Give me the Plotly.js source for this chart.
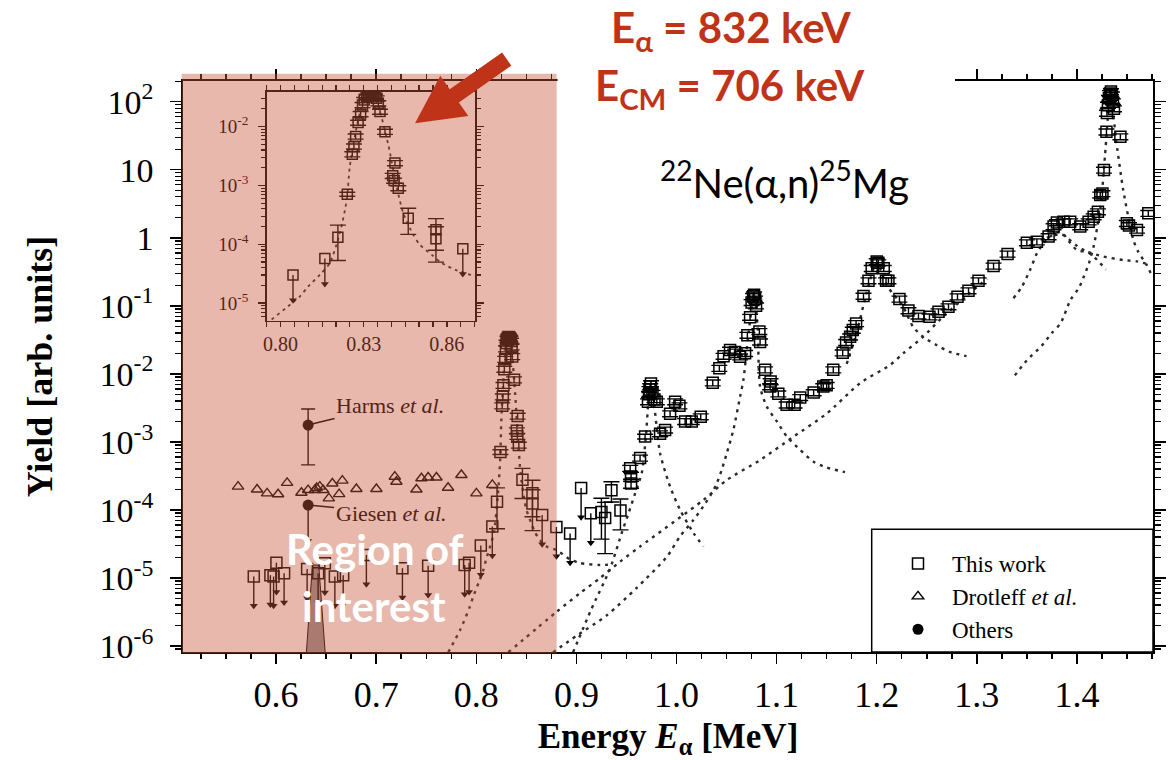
<!DOCTYPE html>
<html><head><meta charset="utf-8">
<script src="https://cdn.plot.ly/plotly-3.0.1.min.js"></script>
<style>html,body{margin:0;padding:0;background:#fff}#chart{width:1170px;height:760px}</style>
</head><body><div id="chart"></div>
<script>
// ---------------- DATA ----------------
// This work: measured yields (Energy in MeV, yield in arb. units, relative error)
const thisWorkE = [0.8207,0.8241,0.8259,0.8265,0.8271,0.828,0.8289,0.8296,0.8302,0.8311,0.8317,0.8323,0.8329,0.8335,0.8341,0.8347,0.8353,0.8359,0.8377,0.8405,0.841,0.8413,0.8425,0.8461,0.8561,0.8561,
0.925,0.9287,0.935,0.944,0.9537,0.9546,0.9546,0.9636,0.9686,0.9715,0.9726,0.973,0.9738,0.9745,0.976,0.978,0.9803,0.9836,0.9886,0.9936,0.9986,1.0029,1.0086,1.0152,1.0242,1.0362,1.0428,1.047,1.0535,1.0585,1.0635,1.0685,1.0708,1.0735,1.075,1.0765,1.0775,1.0785,1.0795,1.0828,1.0835,1.0885,1.0935,1.094,1.1017,1.11,1.118,1.1236,1.137,1.1466,1.15,1.1566,1.166,1.1694,1.1734,1.1761,1.1794,1.1868,1.1918,1.195,1.2,1.2016,1.207,1.2093,1.2117,1.2227,1.2317,1.2417,1.2527,1.2617,1.2717,1.2807,1.2917,1.3017,1.3167,1.3307,1.35,1.36,1.3717,1.3767,1.38,1.3867,1.3933,1.4033,1.4117,1.4167,1.421,1.4233,1.4255,1.427,1.4295,1.43,1.431,1.432,1.433,1.434,1.435,1.436,1.437,1.4434,1.4499,1.452,1.46,1.4713];
const thisWorkY = [1.32e-4,7.1e-4,3.4e-3,4.6e-3,6.8e-3,1.17e-2,1.64e-2,2.34e-2,2.84e-2,3.24e-2,3.4e-2,3.47e-2,3.43e-2,3.33e-2,3.24e-2,3.03e-2,2.5e-2,1.8e-2,8.2e-3,1.46e-3,1.21e-3,2.4e-3,9.0e-4,2.78e-4,1.76e-4,1.24e-4,
9.3e-5,7.6e-5,1.95e-4,9.8e-5,4.1e-4,3.1e-4,2.45e-4,5.8e-4,1.2e-3,3.9e-3,5.0e-3,5.9e-3,6.5e-3,7.2e-3,5.2e-3,4.2e-3,3.9e-3,1.32e-3,1.5e-3,2.6e-3,3.9e-3,3.4e-3,2.0e-3,2.0e-3,2.35e-3,7.4e-3,1.21e-2,1.82e-2,2.24e-2,2.1e-2,1.78e-2,2.0e-2,3.7e-2,6.8e-2,0.112,0.138,0.145,0.126,0.10,4.2e-2,2.95e-2,1.15e-2,6.5e-3,7.7e-3,5.1e-3,3.5e-3,3.5e-3,4.5e-3,5.3e-3,6.5e-3,6.8e-3,1.15e-2,2.04e-2,2.9e-2,3.5e-2,4.4e-2,5.5e-2,0.139,0.234,0.355,0.447,0.43,0.355,0.234,0.234,0.126,8.5e-2,7.1e-2,6.9e-2,8.2e-2,9.7e-2,0.136,0.167,0.234,0.385,0.578,0.847,0.875,1.04,1.46,1.67,1.72,1.72,1.46,1.72,2.04,2.42,4.26,4.47,9.9,36,68,89,112,132,141,126,100,79,30.6,1.63,1.51,1.30,2.29];
const thisWorkRelErr = [0.6,0.08,0.1,0.1,0.1,0.1,0.1,0.1,0.1,0.1,0.1,0.1,0.1,0.1,0.1,0.1,0.1,0.1,0.1,0.1,0.1,0.1,0.1,0.47,0.55,0.6,
0.6,0.7,0.33,0.48,0.1,0.15,0.15,0.1,0.08,0.1,0.1,0.1,0.1,0.1,0.1,0.1,0.1,0.1,0.1,0.1,0.1,0.1,0.1,0.1,0.1,0.1,0.1,0.1,0.1,0.1,0.1,0.1,0.1,0.1,0.1,0.1,0.1,0.1,0.1,0.1,0.1,0.1,0.1,0.1,0.1,0.1,0.1,0.1,0.1,0.1,0.1,0.1,0.1,0.1,0.1,0.1,0.1,0.1,0.1,0.1,0.1,0.1,0.1,0.1,0.1,0.1,0.1,0.1,0.1,0.1,0.1,0.1,0.1,0.1,0.1,0.1,0.1,0.1,0.1,0.1,0.1,0.1,0.1,0.1,0.1,0.1,0.1,0.1,0.1,0.1,0.1,0.1,0.1,0.1,0.1,0.1,0.1,0.1,0.1,0.1,0.1,0.1,0.1,0.1];

// This work: upper limits
const limitE = [0.5777,0.5943,0.5975,0.6003,0.608,0.631,0.642,0.6487,0.6587,0.667,0.6902,0.7262,0.7519,0.7884,0.7928,0.8045,0.816,0.8658,0.880,0.8937,0.9047,0.9144];
const limitY = [1.05e-5,1.1e-5,1.05e-5,1.68e-5,1.17e-5,1.35e-5,1.17e-5,1.64e-5,1.05e-5,1.1e-5,2.18e-5,1.39e-5,1.51e-5,1.55e-5,1.68e-5,2.99e-5,5.7e-5,8.4e-5,5.6e-5,4.5e-5,2.1e-4,8.9e-5];

// Drotleff et al.
const drotleffE = [0.562,0.581,0.591,0.602,0.611,0.6253,0.632,0.6387,0.6405,0.6437,0.647,0.6527,0.6562,0.663,0.6662,0.6802,0.7002,0.7186,0.7202,0.7402,0.7452,0.7519,0.7602,0.7718,0.7851,0.8001,0.816];
const drotleffY = [2.2e-4,2.0e-4,1.75e-4,1.7e-4,2.5e-4,1.79e-4,1.96e-4,1.96e-4,2.1e-4,2.2e-4,1.96e-4,1.48e-4,2.45e-4,1.71e-4,2.7e-4,2.03e-4,2.03e-4,3.08e-4,2.6e-4,2.0e-4,2.92e-4,3.0e-4,3.0e-4,2.12e-4,3.26e-4,1.75e-4,2.33e-4];

// Others
const harmsE = [0.632];
const harmsY = [1.77e-3];
const harmsErrPlus = [1.28e-3];
const harmsErrMinus = [1.31e-3];
const giesenE = [0.632];
const giesenY = [1.18e-4];

// narrow filled peak in the region of interest
const spikeE = [0.6303,0.6363,0.6426,0.649];
const spikeY = [8.1e-7,1.55e-5,1.55e-5,8.1e-7];

// dotted resonance curves
const fitAE = [0.772,0.784,0.7936,0.7967,0.8027,0.807,0.81,0.8142,0.8178,0.8214,0.8239,0.825,0.8275,0.8298,0.8323,0.835,0.8389,0.8419,0.8443,0.8479,0.8503,0.8546,0.8582,0.8636,0.8702,0.8803,0.893,0.9034,0.9237,0.935];
const fitAY = [8.1e-7,1.74e-6,3.8e-6,5.2e-6,8.8e-6,1.3e-5,1.92e-5,3.03e-5,4.8e-5,1.55e-4,5.7e-4,2.1e-3,1.0e-2,2.6e-2,3.7e-2,2.4e-2,4.9e-3,9.5e-4,3.4e-4,1.45e-4,9.8e-5,6.6e-5,4.8e-5,3.6e-5,2.9e-5,2.57e-5,1.9e-5,1.66e-5,1.55e-5,1.58e-5];
const fitBE = [0.8967,0.915,0.9337,0.9453,0.952,0.9587,0.9653,0.9695,0.972,0.9745,0.978,0.9836,0.9936,1.0036,1.0169,1.0269];
const fitBY = [8.1e-7,3.5e-6,1.38e-5,4.6e-5,8.9e-5,1.76e-4,3.5e-4,1.26e-3,4.0e-3,7.2e-3,3.2e-3,6.8e-4,2.2e-4,1.0e-4,4.6e-5,2.9e-5];
const fitCE = [0.8767,0.90,0.93,0.96,0.9903,1.0036,1.0169,1.0266,1.0352,1.0402,1.0452,1.0502,1.0568,1.0635,1.0668,1.072,1.0775,1.081,1.0835,1.0902,1.1002,1.1102,1.1236,1.137,1.15,1.1683];
const fitCY = [8.1e-7,1.41e-6,2.8e-6,7.1e-6,2.04e-5,4.1e-5,7.1e-5,1.12e-4,1.76e-4,2.45e-4,3.9e-4,6.8e-4,1.5e-3,4.6e-3,8.1e-3,4.0e-2,0.145,5.0e-2,6.5e-3,3.3e-3,2.0e-3,1.2e-3,7.6e-4,5.1e-4,4.2e-4,3.6e-4];
const fitLE = [0.832,0.8804,0.9037,0.9237,0.9437,0.9636,1.0269,1.0502,1.0835,1.1168,1.15,1.1834,1.2134,1.2264,1.2464,1.2648,1.29,1.31];
const fitLY = [8.1e-7,3.2e-6,6.0e-6,1.0e-5,1.74e-5,2.9e-5,1.4e-4,2.75e-4,5.4e-4,1.19e-3,2.6e-3,7.3e-3,1.35e-2,2.0e-2,3.5e-2,6.6e-2,0.141,0.25];
const fitDE = [1.17,1.18,1.19,1.2,1.21,1.2264,1.2364,1.2464,1.2597,1.273,1.2897];
const fitDY = [1.4e-2,4.0e-2,0.158,0.43,0.2,9.7e-2,4.9e-2,3.5e-2,2.65e-2,2.1e-2,1.82e-2];
const fitEE = [1.3366,1.345,1.3533,1.36,1.3666,1.3733,1.38,1.386,1.393,1.40,1.41,1.4264,1.4463,1.46,1.4733];
const fitEY = [0.129,0.19,0.34,0.59,0.83,1.04,1.2,1.15,0.85,0.66,0.62,0.53,0.47,0.45,0.40];
const fitFE = [1.37,1.385,1.40,1.415,1.429];
const fitFY = [1.0,1.12,0.76,0.56,0.34];
const fitGE = [1.338,1.35,1.365,1.375,1.3836,1.3936,1.4019,1.4069,1.412,1.417,1.4204,1.4237,1.428,1.4334,1.4395,1.4463,1.4564,1.4613,1.4697,1.4747];
const fitGY = [9.5e-3,1.58e-2,2.6e-2,4.0e-2,5.5e-2,0.122,0.182,0.27,0.42,0.78,1.46,2.86,15.8,126,25,5.0,0.93,0.62,0.40,0.28];

// tick labels
const yTickVals = [1e-6,1e-5,1e-4,1e-3,1e-2,1e-1,1,10,100];
const yTickText = ['10<sup>-6</sup>','10<sup>-5</sup>','10<sup>-4</sup>','10<sup>-3</sup>','10<sup>-2</sup>','10<sup>-1</sup>','1','10','10<sup>2</sup>'];
const insetXTickVals = [0.80,0.83,0.86];
const insetXTickText = ['0.80','0.83','0.86'];
const insetYTickVals = [1e-5,1e-4,1e-3,1e-2];
const insetYTickText = ['10<sup>-5</sup>','10<sup>-4</sup>','10<sup>-3</sup>','10<sup>-2</sup>'];

// ---------------- STYLE / LAYOUT ----------------
const L = 183, R = 1153, T = 81, B = 652;           // plot area in pixels
const px = v => (v - L) / (R - L);
const py = v => (B - v) / (B - T);
const SERIF = "'Liberation Serif','Times New Roman',serif";
const SANS = "Lato,'Open Sans',sans-serif";
const BROWN = '#542419';
const LIMIT_DROP = Math.pow(10, -0.43);
const GIESEN_DROP = Math.pow(10, -0.53);

const minorMain = [];
for (let k = -7; k <= 2; k++) for (let m = 2; m <= 9; m++) minorMain.push(m * Math.pow(10, k));

const dotted = {color:'#2a2a2a', width:2.4, dash:'3px,5px', shape:'spline', smoothing:0.7};
const dottedInset = {color:'#2a2a2a', width:1.8, dash:'3px,4px', shape:'spline', smoothing:0.7};

const fits = [[fitAE,fitAY],[fitBE,fitBY],[fitCE,fitCY],[fitLE,fitLY],[fitDE,fitDY],[fitEE,fitEY],[fitFE,fitFY],[fitGE,fitGY]];

const traces = [];
traces.push({x:spikeE, y:spikeY, mode:'lines', fill:'toself', fillcolor:'#959597', line:{color:'#000', width:1}, showlegend:false, hoverinfo:'skip'});
fits.forEach(f => traces.push({x:f[0], y:f[1], mode:'lines', line:dotted, showlegend:false, hoverinfo:'skip'}));

function dataTraces(xa, ya, sq, legend) {
  const out = [];
  out.push({x:thisWorkE, y:thisWorkY, xaxis:xa, yaxis:ya, mode:'markers', name:'This work', showlegend:legend,
    marker:{symbol:'square-open', size:sq, color:'#000', line:{width:1.5, color:'#000'}},
    error_y:{type:'data', array:thisWorkY.map((v,i)=>v*thisWorkRelErr[i]), color:'#000', thickness:1.4, width:8}});
  out.push({x:limitE, y:limitY, xaxis:xa, yaxis:ya, mode:'markers', showlegend:false,
    marker:{symbol:'square-open', size:sq, color:'#000', line:{width:1.5, color:'#000'}},
    error_y:{type:'data', symmetric:false, array:limitY.map(()=>0), arrayminus:limitY.map(v=>v*(1-LIMIT_DROP)), color:'#000', thickness:1.4, width:0}});
  out.push({x:limitE, y:limitY.map(v=>v*LIMIT_DROP), xaxis:xa, yaxis:ya, mode:'markers', showlegend:false,
    marker:{symbol:'triangle-down', size:7, color:'#000'}});
  return out;
}
traces.push(...dataTraces('x','y',11,true));
traces.push({x:drotleffE, y:drotleffY, mode:'markers', name:'Drotleff <i>et al.</i>',
  marker:{symbol:'triangle-up-open', size:10, color:'#000', line:{width:1.4, color:'#000'}}});
traces.push({x:harmsE, y:harmsY, mode:'markers', name:'Others',
  marker:{symbol:'circle', size:11, color:'#000'},
  error_y:{type:'data', symmetric:false, array:harmsErrPlus, arrayminus:harmsErrMinus, color:'#000', thickness:1.4, width:7}});
traces.push({x:giesenE, y:giesenY, mode:'markers', showlegend:false,
  marker:{symbol:'circle', size:11, color:'#000'},
  error_y:{type:'data', symmetric:false, array:[0], arrayminus:giesenY.map(v=>v*(1-GIESEN_DROP)), color:'#000', thickness:1.4, width:0}});
traces.push({x:giesenE, y:giesenY.map(v=>v*GIESEN_DROP), mode:'markers', showlegend:false,
  marker:{symbol:'triangle-down', size:7, color:'#000'}});
// inset
traces.push({x:fitAE, y:fitAY, xaxis:'x2', yaxis:'y2', mode:'lines', line:dottedInset, showlegend:false, hoverinfo:'skip'});
traces.push(...dataTraces('x2','y2',10,false));

const minorInset = minorMain.filter(v => v > 4e-6 && v < 0.05);

// arrow polygon (pixels) -> paper
const arrowPts = [[415,123.3],[468.3,115.9],[458.9,102.4],[511.3,65.7],[502.1,52.5],[449.7,89.2],[440.3,75.7]];
const arrowPath = 'M' + arrowPts.map(p => px(p[0]).toFixed(5) + ',' + py(p[1]).toFixed(5)).join(' L') + ' Z';

const axisCommon = {showline:true, linecolor:'#000', linewidth:1.8, mirror:'ticks', ticks:'outside', tickcolor:'#000', tickwidth:1.5, showgrid:false, zeroline:false};

const layout = {
  width:1170, height:760,
  margin:{l:L, r:1170-R, t:T, b:760-B, pad:0},
  paper_bgcolor:'#fff', plot_bgcolor:'rgba(0,0,0,0)',
  font:{family:SERIF, color:'#000'},
  showlegend:true,
  legend:{x:px(884), y:py(542), xanchor:'left', yanchor:'top', bgcolor:'rgba(0,0,0,0)', borderwidth:0,
    font:{family:SERIF, size:23, color:'#000'}, itemwidth:58, tracegroupgap:0},
  xaxis:Object.assign({}, axisCommon, {range:[0.507,1.476], tickmode:'linear', tick0:0.6, dtick:0.1, tickformat:'.1f', ticklen:10,
    tickfont:{size:36, family:SERIF}, ticklabelstandoff:0,
    minor:{tickmode:'linear', tick0:0.5, dtick:0.025, ticklen:5, ticks:'outside', tickcolor:'#000', tickwidth:1.5},
    title:{text:'<b>Energy <i>E</i><sub>α</sub> [MeV]</b>', font:{size:35, family:SERIF}, standoff:16}}),
  yaxis:Object.assign({}, axisCommon, {type:'log', range:[-6.088,2.304], tickmode:'array', tickvals:yTickVals, ticktext:yTickText, ticklen:11,
    tickfont:{size:34, family:SERIF}, ticklabelstandoff:10,
    minor:{tickmode:'array', tickvals:minorMain, ticklen:6, ticks:'outside', tickcolor:'#000', tickwidth:1.3},
    title:{text:'<b>Yield [arb. units]</b>', font:{size:36, family:SERIF}, standoff:36}}),
  xaxis2:Object.assign({}, axisCommon, {domain:[px(266.7), px(475)], anchor:'y2', range:[0.795,0.8702], linewidth:1.5,
    tickmode:'array', tickvals:insetXTickVals, ticktext:insetXTickText, ticklen:5, tickfont:{size:20, family:SERIF},
    minor:{tickmode:'linear', tick0:0.8, dtick:0.005, ticklen:5, ticks:'outside', tickcolor:'#000', tickwidth:1.2}}),
  yaxis2:Object.assign({}, axisCommon, {domain:[py(320.7), py(91.7)], anchor:'x2', type:'log', range:[-5.30,-1.406], linewidth:1.5,
    tickmode:'array', tickvals:insetYTickVals, ticktext:insetYTickText, ticklen:7, tickfont:{size:19, family:SERIF}, ticklabelstandoff:6,
    minor:{tickmode:'array', tickvals:minorInset, ticklen:4, ticks:'outside', tickcolor:'#000', tickwidth:1.1}}),
  shapes:[
    {type:'rect', xref:'paper', yref:'paper', x0:px(871.7), x1:px(1153), y0:py(652), y1:py(529.3), line:{color:'#000', width:1.5}, fillcolor:'#fff', layer:'below'},
    {type:'rect', xref:'paper', yref:'paper', x0:px(557.5), x1:px(955), y0:py(86), y1:py(64), line:{width:0}, fillcolor:'#fff', layer:'above'},
    {type:'rect', xref:'paper', yref:'paper', x0:px(181.7), x1:px(556.7), y0:py(653.5), y1:py(73.7), line:{width:0}, fillcolor:'rgba(200,85,60,0.42)', layer:'above'},
    {type:'path', xref:'paper', yref:'paper', path:arrowPath, line:{width:0}, fillcolor:'#BF3418', layer:'above'}
  ],
  annotations:[
    {xref:'paper', yref:'paper', x:px(731), y:py(30), text:'<b>E<sub>α</sub> = 832 keV</b>', showarrow:false, xanchor:'center', yanchor:'middle', font:{family:SANS, size:42, color:'#BF3418'}},
    {xref:'paper', yref:'paper', x:px(730), y:py(88), text:'<b>E<sub>CM</sub> = 706 keV</b>', showarrow:false, xanchor:'center', yanchor:'middle', font:{family:SANS, size:42, color:'#BF3418'}},
    {xref:'paper', yref:'paper', x:px(784), y:py(180), text:'<sup>22</sup>Ne(α,n)<sup>25</sup>Mg', showarrow:false, xanchor:'center', yanchor:'middle', font:{family:SANS, size:40, color:'#000'}},
    {xref:'paper', yref:'paper', x:px(374.7), y:py(549), text:'<b>Region of</b>', showarrow:false, xanchor:'center', yanchor:'middle', font:{family:SANS, size:42, color:'#fff'}},
    {xref:'paper', yref:'paper', x:px(373.5), y:py(606), text:'<b>interest</b>', showarrow:false, xanchor:'center', yanchor:'middle', font:{family:SANS, size:42, color:'#fff'}},
    {xref:'x', yref:'y', x:harmsE[0], y:Math.log10(harmsY[0]), text:'Harms <i>et al.</i>', showarrow:true, arrowhead:0, arrowwidth:1.5, arrowcolor:BROWN, standoff:5, ax:82, ay:-20, font:{family:SERIF, size:22, color:BROWN}},
    {xref:'x', yref:'y', x:giesenE[0], y:Math.log10(giesenY[0]), text:'Giesen <i>et al.</i>', showarrow:true, arrowhead:0, arrowwidth:1.5, arrowcolor:BROWN, standoff:5, ax:83, ay:8, font:{family:SERIF, size:22, color:BROWN}}
  ]
};

Plotly.newPlot('chart', traces, layout, {staticPlot:true, displayModeBar:false});
</script>
</body></html>
